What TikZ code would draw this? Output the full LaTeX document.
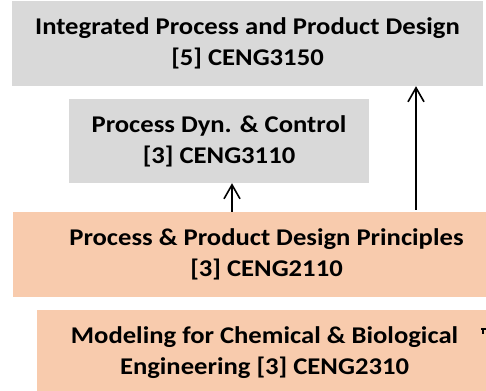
\documentclass[tikz,border=0pt]{standalone}
\usepackage{fontspec}
\setmainfont{Carlito}[FakeStretch=1.11]
\usetikzlibrary{
  arrows.meta
}
\definecolor{boxgray}{HTML}{D9D9D9}
\definecolor{boxorange}{HTML}{F8CBAD}

\begin{document}
\begin{tikzpicture}[x=1pt,y=-1pt]
  \tikzset{
    course/.style = {
      fill=boxgray,
      inner sep=0pt,
      align=center,
      font=\fontsize{24}{31}\selectfont\bfseries,
    },
    corecourse/.style = {course, fill=boxorange},
    prereq/.style = {
      line width=1.6pt,
      -{Straight Barb[length=14pt,width=16pt,line width=1.6pt]},
    },
  }
  % frame of the visible page, boxes run past the right edge
  \useasboundingbox (0,0) rectangle (486,390);
  \clip (0,0) rectangle (486,390);

  \node[course, minimum width=471pt, minimum height=85pt] (ippd)
    at (247.5,43.5) {Integrated Process and Product Design\\{[5]} CENG3150};
  \node[course, minimum width=300pt, minimum height=84pt] (dyn)
    at (219,141) {Process Dyn. \& Control\\{[3]} CENG3110};
  \node[corecourse, minimum width=507pt, minimum height=85pt] (ppdp)
    at (266.5,254.5) {Process \& Product Design Principles\\{[3]} CENG2110};
  \node[corecourse, minimum width=455pt, minimum height=85pt] (model)
    at (264.5,352.5) {Modeling for Chemical \& Biological\\Engineering {[3]} CENG2310};

  % prerequisite arrows
  \draw[prereq] ([xshift=-34.5pt]ppdp.north) -- ([xshift=13pt]dyn.south);
  \draw[prereq, shorten <=2pt] ([xshift=149.5pt]ppdp.north) -- ([xshift=168.5pt]ippd.south);

  % stub of a connector that leaves the page
  \coordinate (stub) at (481,329);
  \draw[line width=1.6pt] (stub) -- ++(6,0) (stub) ++(2,0) -- ++(0,5);
\end{tikzpicture}
\end{document}
